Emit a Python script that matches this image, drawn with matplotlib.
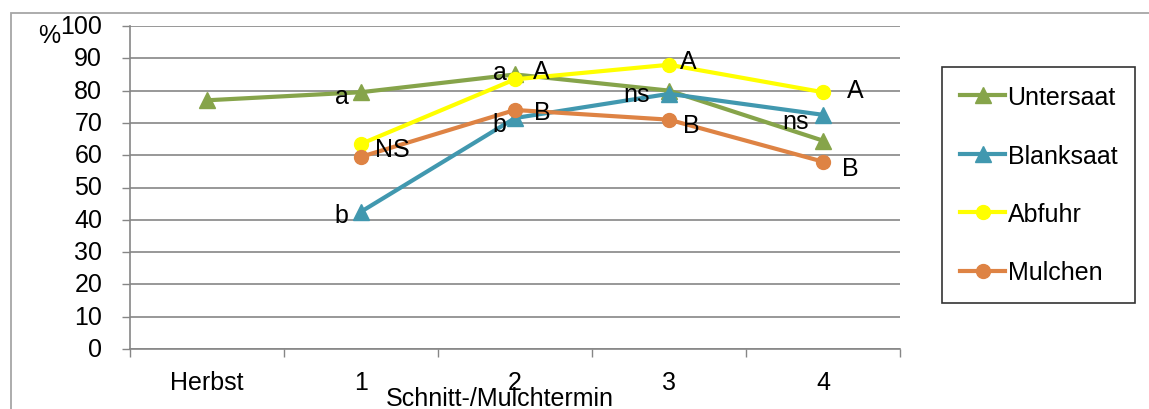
import matplotlib.pyplot as plt
from matplotlib.patches import Rectangle
import numpy as np

plt.rcParams['font.family'] = ['Liberation Sans', 'DejaVu Sans']

termine = ['Herbst', '1', '2', '3', '4']
untersaat = [77, 79.5, 85, 80, 64.5]
blanksaat = [np.nan, 42.5, 71.5, 79, 72.5]
abfuhr = [np.nan, 63.5, 83.5, 88, 79.5]
mulchen = [np.nan, 59.5, 74, 71, 58]

# significance letters: (series, category index, text, dx pt, dy pt, ha)
sig_labels = [
    ('untersaat', 1, 'a', -9, -3, 'right'),
    ('blanksaat', 1, 'b', -9, -2, 'right'),
    ('abfuhr', 1, 'NS', 10, -3.6, 'left'),
    ('untersaat', 2, 'a', -6, 1.5, 'right'),
    ('abfuhr', 2, 'A', 13, 6, 'left'),
    ('blanksaat', 2, 'b', -6.5, -4.3, 'right'),
    ('mulchen', 2, 'B', 14, -1.4, 'left'),
    ('abfuhr', 3, 'A', 8, 3, 'left'),
    ('blanksaat', 3, 'ns', -14, 0, 'right'),
    ('mulchen', 3, 'B', 10, -3.6, 'left'),
    ('abfuhr', 4, 'A', 17, 1.5, 'left'),
    ('blanksaat', 4, 'ns', -10, -4.3, 'right'),
    ('mulchen', 4, 'B', 14, -4.3, 'left'),
]

series = {
    'untersaat': (untersaat, 'Untersaat', '#86A44A', '^', 12),
    'blanksaat': (blanksaat, 'Blanksaat', '#4198AF', '^', 12),
    'abfuhr': (abfuhr, 'Abfuhr', '#FFFF00', 'o', 10),
    'mulchen': (mulchen, 'Mulchen', '#DE8344', 'o', 10),
}

fs = 18

fig = plt.figure(figsize=(11.49, 4.10), dpi=100)
ax = fig.add_axes([130/1149, 1-350/410, 770/1149, 323/410])

# outer chart frame (cut off at right and bottom)
fig.add_artist(Rectangle((11/1149, -0.2), 1.2, 1.2 - 14/410,
                         transform=fig.transFigure, fill=False,
                         edgecolor='#A6A6A6', linewidth=1.3))

x = np.arange(len(termine))
for key, (vals, name, col, mk, ms) in series.items():
    ax.plot(x, vals, color=col, marker=mk, markersize=ms, linewidth=3,
            label=name, zorder=3)

for key, i, txt, dx, dy, ha in sig_labels:
    ax.annotate(txt, (x[i], series[key][0][i]), xytext=(dx, dy),
                textcoords='offset points', ha=ha, va='center',
                fontsize=fs, zorder=5)

ax.set_xlim(-0.5, 4.5)
ax.set_ylim(0, 100)
ax.set_yticks(np.arange(0, 101, 10))
ax.set_xticks(x)
ax.set_xticklabels(termine)
ax.set_xticks(np.arange(-0.5, 4.6, 1), minor=True)
ax.tick_params(axis='x', which='major', length=0, pad=15, labelsize=fs)
ax.tick_params(axis='x', which='minor', length=6, color='#868686', width=1)
ax.tick_params(axis='y', length=6, color='#868686', width=1, labelsize=fs, pad=14)
for lbl in ax.get_yticklabels():
    lbl.set_verticalalignment('center')
ax.grid(axis='y', color='#868686', linewidth=1.2)
ax.set_axisbelow(True)
for s in ['top', 'right']:
    ax.spines[s].set_visible(False)
for s in ['left', 'bottom']:
    ax.spines[s].set_color('#868686')
    ax.spines[s].set_linewidth(1.2)

fig.text(500/1149, 1-399/410, 'Schnitt-/Mulchtermin', ha='center', va='center', fontsize=fs)
fig.text(49/1149, 1-36/410, '%', ha='center', va='center', fontsize=fs)

leg = ax.legend(loc='upper left', bbox_to_anchor=(942/1149, 1-68/410),
                bbox_transform=fig.transFigure, frameon=True, fancybox=False,
                fontsize=fs, labelspacing=1.38, handlelength=1.8,
                handletextpad=0.1, borderpad=0.72, borderaxespad=0)
leg.get_frame().set_edgecolor('black')
leg.get_frame().set_linewidth(1.2)

fig.savefig('out.png', dpi=100)
